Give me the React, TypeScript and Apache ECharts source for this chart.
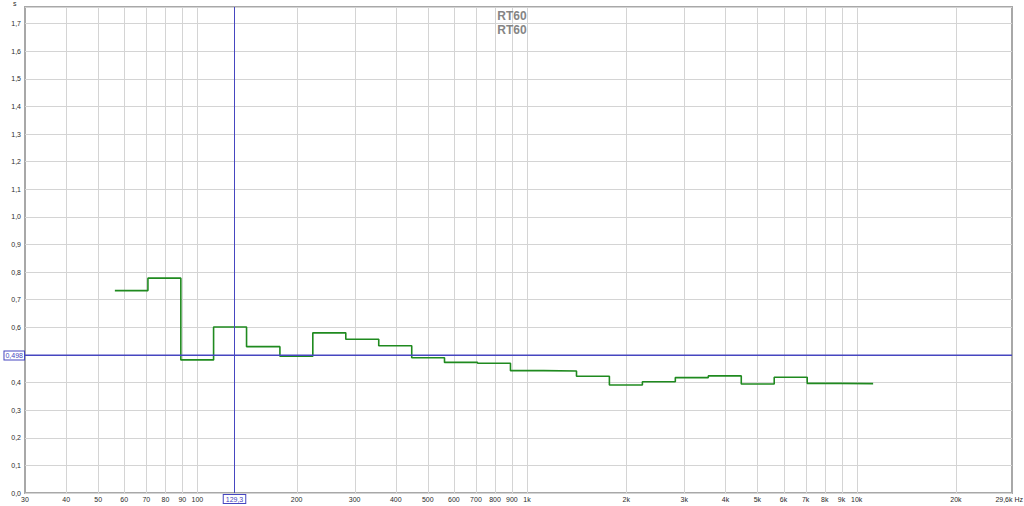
import React, { useEffect, useRef } from 'react';
import * as echarts from 'echarts';

// 1/3-octave band edges (Hz) read from the step positions
const bandEdges = [56.2, 70.8, 89.1, 112, 141, 178, 224, 282, 355, 447, 562, 708, 891, 1122, 1413, 1778, 2239, 2818, 3548, 4467, 5623, 7079, 8913, 11220];
// RT60 per band (s)
const rt60 = [0.733, 0.778, 0.482, 0.601, 0.530, 0.495, 0.580, 0.557, 0.533, 0.490, 0.473, 0.470, 0.443, 0.442, 0.423, 0.391, 0.403, 0.418, 0.424, 0.395, 0.419, 0.397, 0.396];

const gridFreqs = [40, 50, 60, 70, 80, 90, 100, 200, 300, 400, 500, 600, 700, 800, 900, 1000, 2000, 3000, 4000, 5000, 6000, 7000, 8000, 9000, 10000, 20000];
const xTickValues = [30, 40, 50, 60, 70, 80, 90, 100, 200, 300, 400, 500, 600, 700, 800, 900, 1000, 2000, 3000, 4000, 5000, 6000, 7000, 8000, 9000, 10000, 20000, 29600];
const xTickLabels = ['30', '40', '50', '60', '70', '80', '90', '100', '200', '300', '400', '500', '600', '700', '800', '900', '1k', '2k', '3k', '4k', '5k', '6k', '7k', '8k', '9k', '10k', '20k', '29,6k Hz'];

const xMin = 30;
const xMax = 29600;
const yMin = 0;
const yMax = 1.76;

const cursorFreq = 129.3;
const cursorFreqLabel = '129,3';
const cursorValue = 0.498;
const cursorValueLabel = '0,498';

const titleText = 'RT60';

export default function App() {
  const ref = useRef<HTMLDivElement>(null);
  useEffect(() => {
    if (!ref.current) return;
    const chart = echarts.init(ref.current, null, { renderer: 'svg' });

    const stepData: [number, number][] = rt60.map((v, i) => [bandEdges[i], v]);
    stepData.push([bandEdges[bandEdges.length - 1], rt60[rt60.length - 1]]);

    const blue = '#4646c0';
    const font = 'Liberation Sans, Arial, sans-serif';
    const labelColor = '#2a2a2a';

    chart.setOption({
      animation: false,
      backgroundColor: '#ffffff',
      grid: {
        left: 25,
        right: 12,
        top: 7,
        bottom: 13,
        show: true,
        borderColor: '#a8a8a8',
        borderWidth: 2,
        backgroundColor: 'transparent',
      },
      graphic: [
        {
          type: 'text',
          left: 13,
          top: 0,
          style: { text: 's', fontSize: 7, fill: labelColor, fontFamily: font },
        },
        {
          type: 'text',
          x: 512,
          y: 16,
          style: { text: titleText, fontSize: 12, fontWeight: 'bold', fill: '#858585', fontFamily: font, align: 'center', verticalAlign: 'middle' },
          z: 10,
        },
        {
          type: 'text',
          x: 512,
          y: 30,
          style: { text: titleText, fontSize: 12, fontWeight: 'bold', fill: '#858585', fontFamily: font, align: 'center', verticalAlign: 'middle' },
          z: 10,
        },
      ],
      xAxis: {
        type: 'log',
        logBase: 10,
        min: xMin,
        max: xMax,
        axisLine: { show: false },
        axisTick: { show: false },
        axisLabel: { show: false },
        splitLine: { show: false },
      },
      yAxis: {
        type: 'value',
        min: yMin,
        max: yMax,
        interval: 0.1,
        axisLine: { show: false },
        axisTick: { show: false },
        axisLabel: {
          fontSize: 7,
          color: labelColor,
          fontFamily: font,
          margin: 4,
          formatter: (v: number) => {
            if (Math.abs(v * 10 - Math.round(v * 10)) > 1e-6) return '';
            // the cursor readout box covers this tick label in the reference
            if (Math.abs(v - cursorValue) < 0.02) return '';
            return v.toFixed(1).replace('.', ',');
          },
        },
        splitLine: { show: true, lineStyle: { color: '#d4d4d4', width: 1 } },
      },
      series: [
        {
          type: 'custom',
          name: 'xgrid',
          silent: true,
          clip: false,
          z: 1,
          data: xTickValues.map((f, i) => [f, 0, i]),
          encode: { x: 0, y: 1 },
          renderItem: (params: any, api: any) => {
            const f = api.value(0);
            const idx = api.value(2);
            const top = api.coord([f, yMax]);
            const bot = api.coord([f, yMin]);
            const x = Math.round(top[0]) + 0.5;
            const children: any[] = [];
            if (gridFreqs.indexOf(f) >= 0) {
              children.push({
                type: 'line',
                shape: { x1: x, y1: top[1], x2: x, y2: bot[1] },
                style: { stroke: '#d4d4d4', lineWidth: 1 },
              });
            }
            const isLast = idx === xTickLabels.length - 1;
            children.push({
              type: 'text',
              x: isLast ? 1023 : top[0],
              y: bot[1] + 3,
              style: {
                text: xTickLabels[idx],
                fontSize: 7,
                fill: labelColor,
                fontFamily: font,
                align: isLast ? 'right' : 'center',
                verticalAlign: 'top',
              },
            });
            return { type: 'group', children };
          },
        },
        {
          type: 'line',
          name: 'RT60',
          step: 'end',
          data: stepData,
          symbol: 'none',
          z: 5,
          lineStyle: { color: '#1f8a1f', width: 1.6 },
        },
        {
          type: 'custom',
          name: 'cursor',
          silent: true,
          clip: false,
          z: 6,
          data: [[cursorFreq, cursorValue]],
          encode: { x: 0, y: 1 },
          renderItem: (params: any, api: any) => {
            const fx = api.value(0);
            const vy = api.value(1);
            const p = api.coord([fx, vy]);
            const lt = api.coord([xMin, yMax]);
            const rb = api.coord([xMax, yMin]);
            const xi = Math.round(p[0]);
            const yi = Math.floor(p[1]);
            return {
              type: 'group',
              children: [
                { type: 'rect', shape: { x: xi, y: lt[1], width: 1, height: rb[1] - lt[1] }, style: { fill: blue } },
                { type: 'rect', shape: { x: lt[0], y: yi - 0.5, width: rb[0] - lt[0], height: 1.4 }, style: { fill: blue } },
                {
                  type: 'text',
                  x: xi + 0.5,
                  y: rb[1] + 2,
                  style: {
                    text: cursorFreqLabel,
                    fontSize: 7,
                    fill: blue,
                    fontFamily: font,
                    align: 'center',
                    verticalAlign: 'top',
                    backgroundColor: '#fff',
                    borderColor: blue,
                    borderWidth: 1,
                    padding: [1, 2, 0, 2],
                  },
                },
                {
                  type: 'text',
                  x: lt[0] - 1,
                  y: yi + 0.5,
                  style: {
                    text: cursorValueLabel,
                    fontSize: 7,
                    fill: blue,
                    fontFamily: font,
                    align: 'right',
                    verticalAlign: 'middle',
                    backgroundColor: '#fff',
                    borderColor: blue,
                    borderWidth: 1,
                    padding: [1, 1, 0, 1],
                  },
                },
              ],
            };
          },
        },
      ],
    });
    return () => chart.dispose();
  }, []);
  return <div ref={ref} style={{ position: 'fixed', left: 0, top: 0, width: 1024, height: 506 }} />;
}
